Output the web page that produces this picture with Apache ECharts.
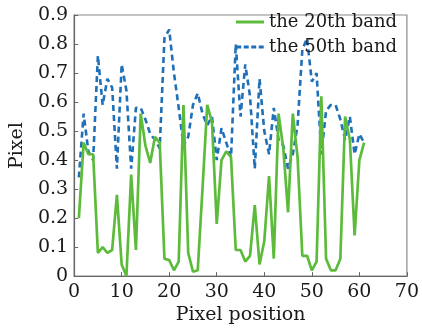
<!DOCTYPE html>
<html>
<head>
<meta charset="utf-8">
<script src="https://cdn.jsdelivr.net/npm/echarts@6/dist/echarts.min.js"></script>
<style>
html,body{margin:0;padding:0;background:#fff;}
#chart{width:422px;height:330px;}
</style>
</head>
<body>
<div id="chart"></div>
<script>
var positions = [1,2,3,4,5,6,7,8,9,10,11,12,13,14,15,16,17,18,19,20,21,22,23,24,25,26,27,28,29,30,31,32,33,34,35,36,37,38,39,40,41,42,43,44,45,46,47,48,49,50,51,52,53,54,55,56,57,58,59,60,61];
var band20 = [0.20,0.46,0.42,0.42,0.08,0.10,0.08,0.09,0.28,0.04,0.00,0.35,0.09,0.56,0.45,0.39,0.48,0.46,0.06,0.055,0.02,0.05,0.59,0.08,0.015,0.02,0.30,0.59,0.53,0.18,0.40,0.43,0.41,0.09,0.09,0.05,0.07,0.245,0.04,0.12,0.345,0.06,0.56,0.44,0.22,0.56,0.41,0.07,0.07,0.02,0.05,0.62,0.06,0.02,0.02,0.06,0.55,0.47,0.14,0.40,0.46];
var band50 = [0.34,0.56,0.43,0.40,0.76,0.59,0.68,0.65,0.37,0.73,0.64,0.37,0.58,0.58,0.54,0.49,0.47,0.44,0.82,0.85,0.70,0.58,0.45,0.48,0.59,0.63,0.56,0.52,0.55,0.40,0.51,0.46,0.41,0.80,0.55,0.73,0.62,0.37,0.68,0.50,0.42,0.58,0.47,0.45,0.37,0.42,0.52,0.78,0.82,0.67,0.70,0.42,0.57,0.59,0.59,0.54,0.47,0.55,0.42,0.49,0.46];
var yTicks = ['0','0.1','0.2','0.3','0.4','0.5','0.6','0.7','0.8','0.9'];
var xTicks = ['0','10','20','30','40','50','60','70'];
var seriesNames = ['the 20th band','the 50th band'];

function pairs(xs, ys){ return xs.map(function(x,i){ return [x, ys[i]]; }); }

var FONT = 'DejaVu Serif';
var GREEN = '#5dbb3c', BLUE = '#1f70b8';
var chart = echarts.init(document.getElementById('chart'), null, {renderer:'canvas'});
chart.setOption({
  animation:false,
  backgroundColor:'#ffffff',
  grid:{left:67, right:14, top:15, bottom:47, show:true, borderColor:'#8a8a8a', borderWidth:1.2},
  legend:{
    orient:'vertical', right:20, top:8, itemWidth:28, itemHeight:3, itemGap:7,
    textStyle:{fontFamily:FONT, fontSize:18, color:'#1a1a1a', lineHeight:18},
    data:[
      {name:seriesNames[0], icon:'rect', itemStyle:{color:GREEN}},
      {name:seriesNames[1], icon:'path://M0,0h5v3h-5z M7.5,0h5v3h-5z M15,0h5v3h-5z M22.5,0h5v3h-5z', itemStyle:{color:BLUE}}
    ]
  },
  xAxis:{
    type:'value', min:0, max:70, interval:10,
    name:'Pixel position', nameLocation:'middle', nameGap:27,
    nameTextStyle:{fontFamily:FONT, fontSize:19, color:'#1a1a1a'},
    axisLine:{lineStyle:{color:'#666', width:1.2}},
    axisTick:{inside:true, length:4, lineStyle:{color:'#666'}},
    axisLabel:{fontFamily:FONT, fontSize:19, color:'#1a1a1a', margin:6,
      formatter:function(v){ var i = xTicks.indexOf(String(v)); return i>=0 ? xTicks[i] : ''; }},
    splitLine:{show:false}
  },
  yAxis:{
    type:'value', min:0, max:0.9, interval:0.1,
    name:'Pixel', nameLocation:'middle', nameGap:42, nameRotate:90,
    nameTextStyle:{fontFamily:FONT, fontSize:19, color:'#1a1a1a'},
    axisLine:{show:true, lineStyle:{color:'#666', width:1.2}},
    axisTick:{show:true, inside:true, length:4, lineStyle:{color:'#666'}},
    axisLabel:{fontFamily:FONT, fontSize:19, color:'#1a1a1a', margin:6,
      formatter:function(v){ var i = Math.round(v*10); return yTicks[i]; }},
    splitLine:{show:false}
  },
  series:[
    {name:seriesNames[0], type:'line', data:pairs(positions, band20), symbol:'none',
     lineStyle:{color:GREEN, width:2.7}, itemStyle:{color:GREEN}, z:3},
    {name:seriesNames[1], type:'line', data:pairs(positions, band50), symbol:'none',
     lineStyle:{color:BLUE, width:2.6, type:[6,4]}, itemStyle:{color:BLUE}, z:2}
  ]
});
</script>
</body>
</html>
